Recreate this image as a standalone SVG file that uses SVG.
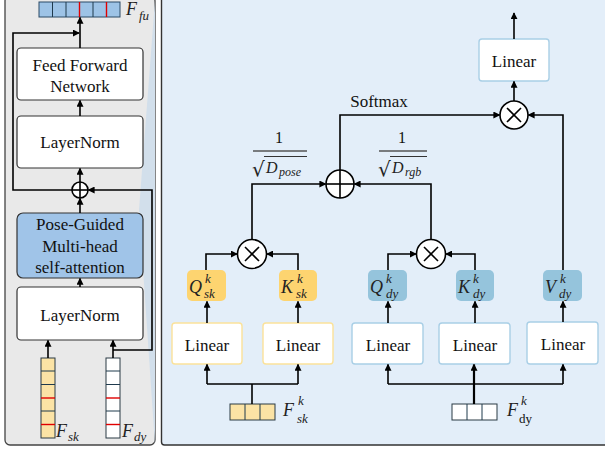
<svg xmlns="http://www.w3.org/2000/svg" width="605" height="449" viewBox="0 0 605 449">
<defs>
<marker id="ah" viewBox="0 0 8 8" refX="7" refY="4" markerWidth="7" markerHeight="7" markerUnits="userSpaceOnUse" orient="auto">
<path d="M0,0 L8,4 L0,8 Z" fill="#000"/>
</marker>
<style>
.t{font-family:"Liberation Serif","Times New Roman",serif;font-size:17px;fill:#111;}
.mi{font-family:"Liberation Serif","Times New Roman",serif;font-style:italic;fill:#222;}
.big{font-size:18px;}
.sm{font-size:13px;}
.c{stroke:#000;stroke-width:1.6;fill:none;}
.ca{stroke:#000;stroke-width:1.6;fill:none;marker-end:url(#ah);}
.box{fill:#fff;stroke:#333;stroke-width:1.2;}
.lbY{fill:#fff;stroke:#fbe29a;stroke-width:1.4;}
.lbB{fill:#fff;stroke:#a9cfe6;stroke-width:1.4;}
.cell{stroke:#1f3a4d;stroke-width:1;}
.red{stroke:#e00000;stroke-width:1.4;}
.op{fill:#fff;stroke:#000;stroke-width:1.6;}
.rad{font-family:"DejaVu Sans",sans-serif;font-size:20px;fill:#222;}
</style>
</defs>

<!-- panels -->
<rect x="5" y="-4" width="150" height="449" rx="5" fill="#e9e9e9" stroke="#444" stroke-width="1.3"/>
<path d="M155,0 L139,210 L155,445 Z" fill="#d2dfeb"/>
<rect x="161.5" y="-4" width="450" height="449" rx="3" fill="#e3eef9" stroke="#333" stroke-width="1.4"/>

<!-- left panel nodes -->
<g id="f_fu">
<rect x="39" y="2" width="81" height="15" fill="#9dc3e6" stroke="#2a4a66" stroke-width="1"/>
<line class="cell" x1="52.5" y1="2" x2="52.5" y2="17"/>
<line class="cell" x1="66" y1="2" x2="66" y2="17"/>
<line class="red" x1="79.5" y1="2" x2="79.5" y2="17"/>
<line class="cell" x1="93" y1="2" x2="93" y2="17"/>
<line class="red" x1="106.5" y1="2" x2="106.5" y2="17"/>
<text class="mi big" x="126" y="15">F</text>
<text class="mi sm" x="139" y="20">fu</text>
</g>
<g id="ffn">
<rect class="box" x="17" y="48" width="126" height="52" rx="4"/>
<text class="t" x="80" y="71" text-anchor="middle">Feed Forward</text>
<text class="t" x="80" y="92" text-anchor="middle">Network</text>
</g>
<g id="ln1">
<rect class="box" x="17" y="116" width="126" height="52" rx="4"/>
<text class="t" x="80" y="148" text-anchor="middle">LayerNorm</text>
</g>
<g id="add_left">
<circle class="op" cx="80" cy="190" r="8"/>
<line class="c" x1="72" y1="190" x2="88" y2="190"/>
<line class="c" x1="80" y1="182" x2="80" y2="198"/>
</g>
<g id="pgmsa">
<rect x="17" y="213" width="126" height="65" rx="6" fill="#a0c4e8" stroke="#333" stroke-width="1.2"/>
<text class="t" x="80" y="230" text-anchor="middle">Pose-Guided</text>
<text class="t" x="80" y="252" text-anchor="middle">Multi-head</text>
<text class="t" x="80" y="273" text-anchor="middle">self-attention</text>
</g>
<g id="ln2">
<rect class="box" x="17" y="287" width="126" height="53" rx="4"/>
<text class="t" x="80" y="321" text-anchor="middle">LayerNorm</text>
</g>
<g id="f_sk">
<rect x="41" y="358" width="14" height="80" fill="#fbe3a5" stroke="#2a3a44" stroke-width="1"/>
<line class="cell" x1="41" y1="371" x2="55" y2="371"/>
<line class="cell" x1="41" y1="384.5" x2="55" y2="384.5"/>
<line class="red" x1="41" y1="398" x2="55" y2="398"/>
<line class="cell" x1="41" y1="411" x2="55" y2="411"/>
<line class="red" x1="41" y1="424.5" x2="55" y2="424.5"/>
<text class="mi big" x="56" y="437">F</text>
<text class="mi sm" x="68" y="441">sk</text>
</g>
<g id="f_dy">
<rect x="106" y="358" width="14" height="80" fill="#fff" stroke="#2a3a44" stroke-width="1"/>
<line class="cell" x1="106" y1="371" x2="120" y2="371"/>
<line class="cell" x1="106" y1="384.5" x2="120" y2="384.5"/>
<line class="red" x1="106" y1="398" x2="120" y2="398"/>
<line class="cell" x1="106" y1="411" x2="120" y2="411"/>
<line class="red" x1="106" y1="424.5" x2="120" y2="424.5"/>
<text class="mi big" x="122" y="437">F</text>
<text class="mi sm" x="134" y="441">dy</text>
</g>

<!-- right panel nodes -->
<g id="linear_out">
<rect class="lbB" x="479" y="39" width="70" height="42" rx="3"/>
<text class="t" x="514" y="67" text-anchor="middle">Linear</text>
</g>
<g id="mul_out">
<circle class="op" cx="514" cy="115" r="14"/>
<line class="c" x1="507" y1="108" x2="521" y2="122"/>
<line class="c" x1="521" y1="108" x2="507" y2="122"/>
</g>
<g id="softmax_label">
<text class="t" x="379" y="107" text-anchor="middle">Softmax</text>
</g>
<g id="add_right">
<circle class="op" cx="340" cy="184" r="14"/>
<line class="c" x1="326" y1="184" x2="354" y2="184"/>
<line class="c" x1="340" y1="170" x2="340" y2="198"/>
</g>
<g id="scale_pose">
<text class="t" x="279" y="143" text-anchor="middle" style="font-size:16px">1</text>
<line x1="253" y1="151" x2="307" y2="151" stroke="#555" stroke-width="1.6"/>
<text class="rad" x="252" y="176">√</text>
<line x1="264" y1="156.5" x2="307" y2="156.5" stroke="#333" stroke-width="1.1"/>
<text class="mi" x="266" y="173" style="font-size:16px">D</text>
<text class="mi" x="279" y="176" style="font-size:12px">pose</text>
</g>
<g id="scale_rgb">
<text class="t" x="402" y="143" text-anchor="middle" style="font-size:16px">1</text>
<line x1="379" y1="151" x2="427" y2="151" stroke="#555" stroke-width="1.6"/>
<text class="rad" x="378" y="176">√</text>
<line x1="390" y1="156.5" x2="427" y2="156.5" stroke="#333" stroke-width="1.1"/>
<text class="mi" x="392" y="173" style="font-size:16px">D</text>
<text class="mi" x="405" y="176" style="font-size:12px">rgb</text>
</g>
<g id="mul_sk">
<circle class="op" cx="252" cy="254" r="14.5"/>
<line class="c" x1="245" y1="247" x2="259" y2="261"/>
<line class="c" x1="259" y1="247" x2="245" y2="261"/>
</g>
<g id="mul_dy">
<circle class="op" cx="431" cy="254" r="14.5"/>
<line class="c" x1="424" y1="247" x2="438" y2="261"/>
<line class="c" x1="438" y1="247" x2="424" y2="261"/>
</g>
<g id="q_sk">
<rect x="187" y="270" width="39" height="31" rx="5" fill="#fdd470"/>
<text class="mi big" x="189" y="293">Q</text>
<text class="mi sm" x="205" y="283">k</text>
<text class="mi sm" x="204" y="298">sk</text>
</g>
<g id="k_sk">
<rect x="279" y="270" width="38" height="31" rx="5" fill="#fdd470"/>
<text class="mi big" x="281" y="293">K</text>
<text class="mi sm" x="297" y="283">k</text>
<text class="mi sm" x="296" y="298">sk</text>
</g>
<g id="q_dy">
<rect x="368" y="270" width="39" height="31" rx="5" fill="#95c4dc"/>
<text class="mi big" x="370" y="293">Q</text>
<text class="mi sm" x="386" y="283">k</text>
<text class="mi sm" x="386" y="298">dy</text>
</g>
<g id="k_dy">
<rect x="456" y="270" width="38" height="31" rx="5" fill="#95c4dc"/>
<text class="mi big" x="458" y="293">K</text>
<text class="mi sm" x="473" y="283">k</text>
<text class="mi sm" x="473" y="298">dy</text>
</g>
<g id="v_dy">
<rect x="543" y="270" width="39" height="31" rx="5" fill="#95c4dc"/>
<text class="mi big" x="545" y="293">V</text>
<text class="mi sm" x="560" y="283">k</text>
<text class="mi sm" x="559" y="298">dy</text>
</g>
<g id="lin1"><rect class="lbY" x="172" y="323" width="70" height="41" rx="3"/><text class="t" x="207" y="351" text-anchor="middle">Linear</text></g>
<g id="lin2"><rect class="lbY" x="263" y="323" width="70" height="41" rx="3"/><text class="t" x="298" y="351" text-anchor="middle">Linear</text></g>
<g id="lin3"><rect class="lbB" x="352" y="323" width="71" height="41" rx="3"/><text class="t" x="388" y="351" text-anchor="middle">Linear</text></g>
<g id="lin4"><rect class="lbB" x="439" y="323" width="71" height="41" rx="3"/><text class="t" x="475" y="351" text-anchor="middle">Linear</text></g>
<g id="lin5"><rect class="lbB" x="527" y="322" width="71" height="42" rx="3"/><text class="t" x="563" y="350" text-anchor="middle">Linear</text></g>
<g id="f_sk_k">
<rect x="230" y="404" width="45" height="16" fill="#fbe3a5" stroke="#2a3a44" stroke-width="1"/>
<line class="cell" x1="245" y1="404" x2="245" y2="420"/>
<line class="cell" x1="260" y1="404" x2="260" y2="420"/>
<text class="mi big" x="283" y="416">F</text>
<text class="mi sm" x="298" y="405">k</text>
<text class="mi sm" x="297" y="423">sk</text>
</g>
<g id="f_dy_k">
<rect x="452" y="404" width="45" height="16" fill="#fff" stroke="#2a3a44" stroke-width="1"/>
<line class="cell" x1="467" y1="404" x2="467" y2="420"/>
<line class="cell" x1="482" y1="404" x2="482" y2="420"/>
<text class="mi big" x="507" y="416">F</text>
<text class="mi sm" x="521" y="405">k</text>
<text class="t sm" x="519" y="423">dy</text>
</g>

<!-- connectors -->
<g id="connectors">
<line class="ca" x1="80" y1="48" x2="80" y2="17.5"/>
<line class="ca" x1="80" y1="116" x2="80" y2="100.5"/>
<line class="ca" x1="80" y1="182" x2="80" y2="168.5"/>
<line class="ca" x1="80" y1="213" x2="80" y2="198.5"/>
<line class="ca" x1="80" y1="287" x2="80" y2="278.5"/>
<line class="ca" x1="48" y1="358" x2="48" y2="340.5"/>
<line class="ca" x1="113" y1="358" x2="113" y2="340.5"/>
<polyline class="ca" points="72,190 13,190 13,33 79,33"/>
<polyline class="ca" points="113,350 152,350 152,190 88.5,190"/>

<line class="ca" x1="514" y1="39" x2="514" y2="13"/>
<line class="ca" x1="514" y1="101" x2="514" y2="81.5"/>
<polyline class="ca" points="340,170 340,115 499.5,115"/>
<polyline class="ca" points="563,270 563,115 528.5,115"/>
<polyline class="ca" points="252,239.5 252,184 325.5,184"/>
<polyline class="ca" points="431,239.5 431,184 354.5,184"/>
<polyline class="ca" points="206,270 206,254 237,254"/>
<polyline class="ca" points="298,270 298,254 267,254"/>
<polyline class="ca" points="388,270 388,254 416,254"/>
<polyline class="ca" points="475,270 475,254 446,254"/>
<line class="ca" x1="207" y1="323" x2="207" y2="301.5"/>
<line class="ca" x1="298" y1="323" x2="298" y2="301.5"/>
<line class="ca" x1="388" y1="323" x2="388" y2="301.5"/>
<line class="ca" x1="475" y1="323" x2="475" y2="301.5"/>
<line class="ca" x1="563" y1="322" x2="563" y2="301.5"/>
<line class="c" x1="252" y1="404" x2="252" y2="384"/>
<polyline class="ca" points="207,384 207,364.5"/>
<polyline class="c" points="207,384 298,384"/>
<polyline class="ca" points="298,384 298,364.5"/>
<line class="ca" x1="474" y1="404" x2="474" y2="364.5" style="stroke-width:2.2"/>
<polyline class="c" points="388,384 563,384"/>
<polyline class="ca" points="388,384 388,364.5"/>
<polyline class="ca" points="563,384 563,364.5"/>
</g>
</svg>
